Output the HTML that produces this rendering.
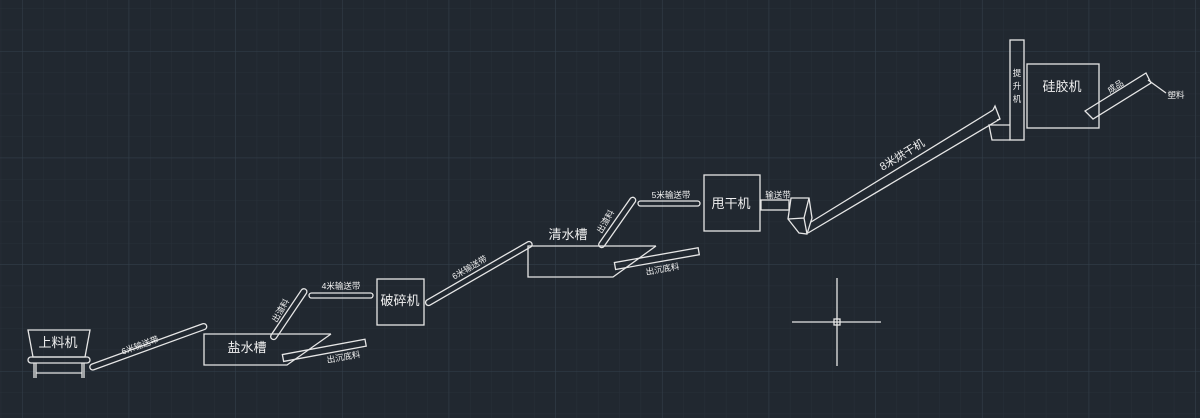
<!DOCTYPE html>
<html><head><meta charset="utf-8"><style>
html,body{margin:0;padding:0;background:#212830;}
svg{display:block}
text{font-family:"Liberation Sans","Noto Sans CJK SC",sans-serif;fill:#f0f0f0}
</style></head><body>
<svg width="1200" height="418" viewBox="0 0 1200 418" xmlns="http://www.w3.org/2000/svg">
<defs>
<pattern id="minor" width="21.33" height="21.33" patternUnits="userSpaceOnUse" x="22" y="51">
<path d="M0 0H21.33M0 0V21.33" stroke="#283039" stroke-width="1" fill="none"/>
</pattern>
<pattern id="major" width="106.67" height="106.67" patternUnits="userSpaceOnUse" x="22" y="51">
<path d="M0 0H106.67M0 0V106.67" stroke="#34404b" stroke-width="1" fill="none"/>
</pattern>
</defs>
<rect width="1200" height="418" fill="#212830"/>
<rect width="1200" height="418" fill="url(#minor)"/>
<rect width="1200" height="418" fill="url(#major)"/>
<g stroke="#e6e6e6" stroke-width="1.3" fill="none">
<!-- 上料机 -->
<polygon points="28,330 90,330 85,357 33,357"/>
<rect x="28" y="357" width="62" height="6" rx="3"/>
<line x1="34" y1="363" x2="34" y2="378"/><line x1="36" y1="363" x2="36" y2="378"/>
<line x1="82" y1="363" x2="82" y2="378"/><line x1="84" y1="363" x2="84" y2="378"/>
<line x1="36" y1="373" x2="82" y2="373"/>
<!-- 6米输送带 1 -->
<rect x="0" y="-3" width="124" height="6" rx="3" transform="translate(90,368) rotate(-20)"/>
<!-- 盐水槽 -->
<polyline points="331,334 204,334 204,365 287,365 331,334"/>
<rect x="0" y="-3.5" width="84" height="7" transform="translate(283,358) rotate(-10.5)"/>
<rect x="0" y="-3" width="60" height="6" rx="3" transform="translate(272,339) rotate(-56)"/>
<rect x="309" y="293" width="64" height="5" rx="2.5"/>
<rect x="377" y="279" width="47" height="46"/>
<!-- 6米输送带 2 -->
<rect x="0" y="-3" width="122" height="6" rx="3" transform="translate(426,304) rotate(-30)"/>
<!-- 清水槽 -->
<polyline points="656,246 528,246 528,277 613,277 656,246"/>
<rect x="0" y="-3.5" width="85" height="7" transform="translate(615,266) rotate(-10)"/>
<rect x="0" y="-3" width="60" height="6" rx="3" transform="translate(600,247) rotate(-55)"/>
<rect x="638" y="201" width="62" height="5" rx="2.5"/>
<rect x="704" y="175" width="56" height="56"/>
<rect x="761" y="200" width="28" height="10"/>
<!-- hopper -->
<polygon points="791,198 809,198 812,218 807,234 799,233 788,219"/>
<polyline points="788,219 804,218 809,198"/><line x1="804" y1="218" x2="807" y2="234"/>
<!-- 8米烘干机 -->
<line x1="811" y1="222" x2="993" y2="110"/>
<line x1="808" y1="233" x2="1000" y2="119"/>
<polyline points="993,110 995,106 1000,119 997,120"/>
<polyline points="1010,125 989,125 992,140 1010,140"/>
<!-- 提升机 -->
<rect x="1010" y="40" width="14" height="100"/>
<!-- 硅胶机 -->
<rect x="1027" y="64" width="72" height="64"/>
<polygon points="1085,111 1146,73 1151,83 1093,119"/>
<line x1="1148" y1="80" x2="1166" y2="93"/>
<!-- crosshair -->
<line x1="792" y1="322" x2="881" y2="322"/>
<line x1="837" y1="278" x2="837" y2="366"/>
<rect x="834" y="319" width="6" height="6"/>
</g>
<g font-size="13">
<text x="58" y="347" text-anchor="middle">上料机</text>
<text x="247" y="352" text-anchor="middle">盐水槽</text>
<text x="400" y="305" text-anchor="middle">破碎机</text>
<text x="568" y="239" text-anchor="middle">清水槽</text>
<text x="731" y="208" text-anchor="middle">甩干机</text>
<text x="1062" y="91" text-anchor="middle">硅胶机</text>
</g>
<g font-size="8.5">
<text transform="translate(141,348) rotate(-20)" text-anchor="middle">6米输送带</text>
<text transform="translate(471,270) rotate(-30)" text-anchor="middle">6米输送带</text>
<text x="341" y="289" text-anchor="middle">4米输送带</text>
<text x="671" y="198" text-anchor="middle">5米输送带</text>
<text x="778" y="198" text-anchor="middle">输送带</text>
<text transform="translate(283,312) rotate(-60)" text-anchor="middle">出渣料</text>
<text transform="translate(608,223) rotate(-60)" text-anchor="middle">出渣料</text>
<text transform="translate(344,360) rotate(-10)" text-anchor="middle">出沉底料</text>
<text transform="translate(663,272) rotate(-10)" text-anchor="middle">出沉底料</text>
<text transform="translate(1117,89) rotate(-32)" text-anchor="middle">成品</text>
<text x="1176" y="98" text-anchor="middle">塑料</text>
<text x="1017" y="76" text-anchor="middle">提</text>
<text x="1017" y="89" text-anchor="middle">升</text>
<text x="1017" y="102" text-anchor="middle">机</text>
</g>
<text font-size="11" transform="translate(904,158) rotate(-31)" text-anchor="middle">8米烘干机</text>
</svg>
</body></html>
